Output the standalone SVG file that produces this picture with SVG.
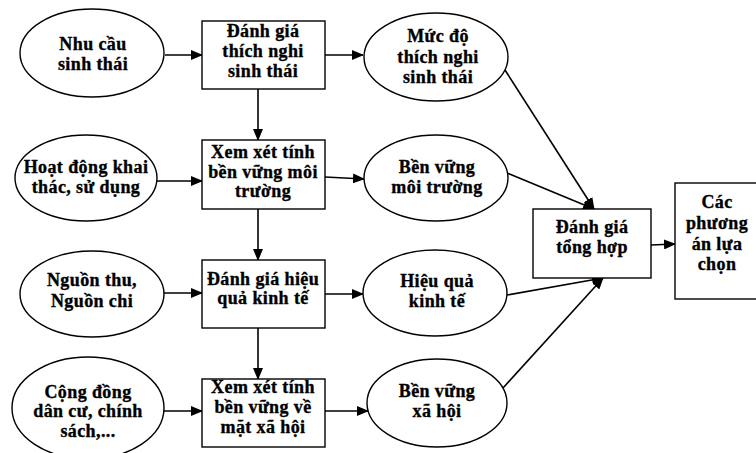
<svg xmlns="http://www.w3.org/2000/svg" width="756" height="453" viewBox="0 0 756 453">
<defs>
<marker id="ah" markerUnits="userSpaceOnUse" markerWidth="12" markerHeight="10" refX="11" refY="5" orient="auto">
<path d="M0,0 L12,5 L0,10 z" fill="#000"/>
</marker>
<style>
.n{fill:#fff;stroke:#000;stroke-width:1.4}
.t{font-family:"Liberation Serif","DejaVu Serif",serif;font-weight:bold;font-size:18px;letter-spacing:0.4px;text-anchor:middle;fill:#000;stroke:#000;stroke-width:0.35px}
.c{stroke:#000;stroke-width:1.6;fill:none;marker-end:url(#ah)}
</style>
</defs>
<rect width="756" height="453" fill="#fff"/>
<g id="connectors">
<line class="c" x1="165" y1="55" x2="202" y2="55"/>
<line class="c" x1="157" y1="181" x2="202" y2="181"/>
<line class="c" x1="163" y1="293" x2="202" y2="293"/>
<line class="c" x1="163" y1="411" x2="202" y2="411"/>
<line class="c" x1="258" y1="89" x2="258" y2="140"/>
<line class="c" x1="258" y1="209" x2="258" y2="260"/>
<line class="c" x1="258" y1="328" x2="258" y2="379"/>
<line class="c" x1="325" y1="55" x2="363" y2="55"/>
<line class="c" x1="325" y1="177" x2="364" y2="179"/>
<line class="c" x1="325" y1="294" x2="363" y2="294"/>
<line class="c" x1="325" y1="411" x2="368" y2="411"/>
<line class="c" x1="505" y1="70" x2="594" y2="209"/>
<line class="c" x1="507" y1="173" x2="594" y2="209"/>
<line class="c" x1="507" y1="295" x2="603" y2="278"/>
<line class="c" x1="503" y1="388" x2="603" y2="278"/>
<line class="c" x1="651" y1="245" x2="675" y2="244"/>
</g>
<g id="e1"><ellipse class="n" cx="92" cy="53" rx="72" ry="44"/><text class="t" x="93" y="50">Nhu cầu</text><text class="t" x="93" y="70">sinh thái</text></g>
<g id="e2"><ellipse class="n" cx="86" cy="178" rx="71" ry="43"/><text class="t" x="86" y="173">Hoạt động khai</text><text class="t" x="86" y="193">thác, sử dụng</text></g>
<g id="e3"><ellipse class="n" cx="92" cy="294" rx="72" ry="43"/><text class="t" x="92" y="286">Nguồn thu,</text><text class="t" x="92" y="307">Nguồn chi</text></g>
<g id="e4"><ellipse class="n" cx="88" cy="408" rx="76" ry="51"/><text class="t" x="88" y="398">Cộng đồng</text><text class="t" x="88" y="417">dân cư, chính</text><text class="t" x="88" y="437">sách,...</text></g>
<g id="b1"><rect class="n" x="202" y="21" width="123" height="68"/><text class="t" x="263" y="37">Đánh giá</text><text class="t" x="263" y="57">thích nghi</text><text class="t" x="263" y="77">sinh thái</text></g>
<g id="b2"><rect class="n" x="202" y="140" width="123" height="69"/><text class="t" x="263" y="158">Xem xét tính</text><text class="t" x="263" y="178">bền vững môi</text><text class="t" x="263" y="197">trường</text></g>
<g id="b3"><rect class="n" x="202" y="260" width="123" height="68"/><text class="t" x="263" y="285">Đánh giá hiệu</text><text class="t" x="263" y="304">quả kinh tế</text></g>
<g id="b4"><rect class="n" x="202" y="379" width="123" height="68"/><text class="t" x="263" y="393">Xem xét tính</text><text class="t" x="263" y="413">bền vững về</text><text class="t" x="263" y="433">mặt xã hội</text></g>
<g id="r1"><ellipse class="n" cx="436" cy="57" rx="72" ry="44"/><text class="t" x="438" y="42">Mức độ</text><text class="t" x="438" y="63">thích nghi</text><text class="t" x="438" y="83">sinh thái</text></g>
<g id="r2"><ellipse class="n" cx="436" cy="178" rx="72" ry="43"/><text class="t" x="437" y="173">Bền vững</text><text class="t" x="437" y="193">môi trường</text></g>
<g id="r3"><ellipse class="n" cx="435" cy="293" rx="72" ry="43"/><text class="t" x="437" y="287">Hiệu quả</text><text class="t" x="437" y="307">kinh tế</text></g>
<g id="r4"><ellipse class="n" cx="437" cy="403" rx="70" ry="44"/><text class="t" x="437" y="397">Bền vững</text><text class="t" x="437" y="417">xã hội</text></g>
<g id="syn"><rect class="n" x="533" y="209" width="118" height="69"/><text class="t" x="592" y="233">Đánh giá</text><text class="t" x="592" y="253">tổng hợp</text></g>
<g id="cac"><rect class="n" x="675" y="183" width="86" height="116"/><text class="t" x="717" y="208">Các</text><text class="t" x="717" y="229">phương</text><text class="t" x="717" y="250">án lựa</text><text class="t" x="717" y="270">chọn</text></g>
</svg>
